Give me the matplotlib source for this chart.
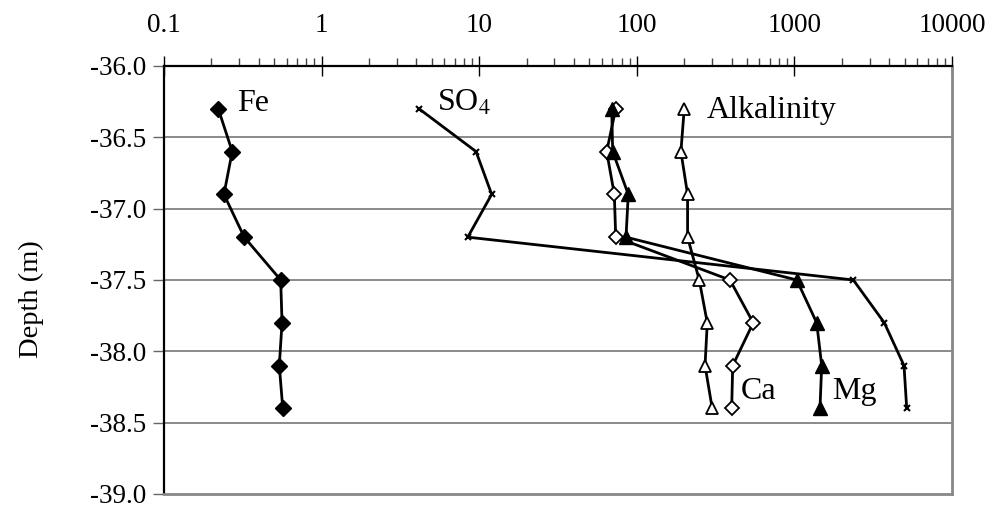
import matplotlib
matplotlib.use("Agg")
import matplotlib.pyplot as plt
from matplotlib.ticker import LogLocator, FixedLocator, NullFormatter

depth = [-36.3, -36.6, -36.9, -37.2, -37.5, -37.8, -38.1, -38.4]
fe = [0.221, 0.271, 0.240, 0.323, 0.550, 0.561, 0.539, 0.567]
so4 = [4.15, 9.55, 12.0, 8.46, 2365, 3720, 4960, 5160]
ca = [73.5, 64.4, 72, 73.5, 390, 548, 406, 400]
mg = [69.3, 70.3, 88.3, 85.4, 1035, 1385, 1490, 1453]
alk = [200, 190.5, 210, 210, 249, 280, 271, 301]

x_ticks = [0.1, 1, 10, 100, 1000, 10000]
x_tick_labels = ["0.1", "1", "10", "100", "1000", "10000"]
y_ticks = [-36.0, -36.5, -37.0, -37.5, -38.0, -38.5, -39.0]

plt.rcParams['font.family'] = ['Liberation Serif', 'DejaVu Serif']

fig = plt.figure(figsize=(10, 5.12), dpi=100)
ax = fig.add_axes([0.164, 0.0352, 0.788, 0.836])

lw = 2.0
ax.plot(fe, depth, color='black', lw=lw, marker='D', ms=8.5, mfc='black', mec='black', zorder=5)
ax.plot(so4, depth, color='black', lw=lw, marker='x', ms=5, mew=1.5, zorder=5)
ax.plot(ca, depth, color='black', lw=lw, marker='D', ms=7, mfc='white', mec='black', mew=1.3, zorder=5)
ax.plot(mg, depth, color='black', lw=lw, marker='^', ms=10, mfc='black', mec='black', zorder=6)
ax.plot(alk, depth, color='black', lw=lw, marker='^', ms=9, mfc='white', mec='black', mew=1.3, zorder=5)

ax.set_xscale('log')
ax.set_xlim(0.1, 10000)
ax.set_ylim(-39.0, -36.0)

ax.xaxis.tick_top()
ax.xaxis.set_major_locator(FixedLocator(x_ticks))
ax.set_xticklabels(x_tick_labels, fontsize=19.5)
ax.xaxis.set_minor_locator(LogLocator(base=10, subs=range(2, 10), numticks=20))
ax.xaxis.set_minor_formatter(NullFormatter())
ax.tick_params(axis='x', which='major', direction='inout', length=14, width=1, color='black', pad=13)
ax.tick_params(axis='x', which='minor', direction='out', length=6, width=1, color='#444444')

ax.set_yticks(y_ticks)
ax.set_yticklabels([f"{v:.1f}" for v in y_ticks], fontsize=19.5)
ax.tick_params(axis='y', direction='out', length=8, width=1, color='#666666', pad=5)
ax.set_ylabel("Depth (m)", fontsize=20.5)
ax.yaxis.set_label_coords(-0.152, 0.455)

for yv in y_ticks[1:-1]:
    ax.axhline(yv, color='#777777', lw=1.2, zorder=1)

ax.spines['left'].set_color('black')
ax.spines['left'].set_linewidth(1.6)
ax.spines['top'].set_color('black')
ax.spines['top'].set_linewidth(1.6)
ax.spines['right'].set_color('#888888')
ax.spines['right'].set_linewidth(2)
ax.spines['bottom'].set_color('#888888')
ax.spines['bottom'].set_linewidth(2)

fs = 23
ax.text(0.29, -36.26, "Fe", fontsize=fs, va='center', ha='left')
ax.text(5.4, -36.26, "SO$_4$", fontsize=fs, va='center', ha='left', math_fontfamily='stix')
ax.text(279, -36.31, "Alkalinity", fontsize=fs, va='center', ha='left')
ax.text(458, -38.28, "Ca", fontsize=fs, va='center', ha='left')
ax.text(1734, -38.28, "Mg", fontsize=fs, va='center', ha='left')

fig.savefig("out.png", dpi=100)
